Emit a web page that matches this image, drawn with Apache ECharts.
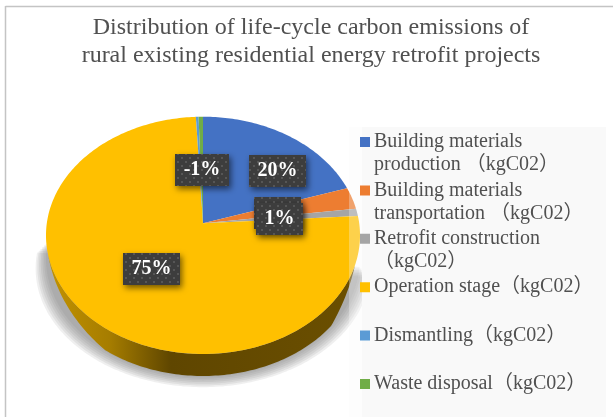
<!DOCTYPE html>
<html>
<head>
<meta charset="utf-8">
<style>html,body{margin:0;padding:0;background:#fff}#grafico{width:613px;height:417px}</style>
<script src="https://cdn.jsdelivr.net/npm/echarts@6/dist/echarts.min.js"></script>
</head>
<body>
<div id="grafico"></div>
<script>
var titulo = 'Distribution of life-cycle carbon emissions of\nrural existing residential energy retrofit projects';
var categorias = [
    'Building materials\nproduction （kgC02）',
    'Building materials\ntransportation （kgC02）',
    'Retrofit construction\n（kgC02）',
    'Operation stage（kgC02）\n ',
    'Dismantling（kgC02）\n ',
    'Waste disposal（kgC02）\n '
];
var valores = [20, 3, 1, 75.2, 0.3, 0.5];
var etiquetas = ['20%', '1%', '1%', '75%', '-1%', '-1%'];
var colores = ['#4472c4', '#ed7d31', '#a5a5a5', '#ffc000', '#5b9bd5', '#70ad47'];

// where the label boxes sit (they were moved by hand in the original)
var pos_etiquetas = [[277.5, 171], [277.5, 213], [279.5, 219], [151.5, 269], [202, 170], [202, 170]];

var FUENTE = '"Liberation Serif", "Noto Sans CJK SC", serif';
var APEX_X = 203, APEX_Y = 223.3, RX = 156.2, RY = 117.4, K = 0.1016, GROSOR = 22;

// angle from 12 o'clock, clockwise, to a point of the tilted disc
function punto(grados) {
    var a = grados * Math.PI / 180;
    var u = Math.sin(a), v = -Math.cos(a), w = 1 - K * v;
    return [APEX_X + RX * u / w, APEX_Y + RY * v / w];
}

function arco(desde, hasta) {
    var pts = [];
    for (var g = desde; g < hasta; g += 1) pts.push(punto(g));
    pts.push(punto(hasta));
    return pts;
}

// side wall fades out towards both ends of the front rim
function grosor_en(g) {
    return GROSOR * Math.max(0, Math.min(1, (g - 110) / 20, (255 - g) / 40));
}

var trama = document.createElement('canvas');
trama.width = 8; trama.height = 8;
var ctx = trama.getContext('2d');
ctx.fillStyle = '#3d3d3d'; ctx.fillRect(0, 0, 8, 8);
ctx.fillStyle = '#565656';
ctx.fillRect(1, 1, 2, 2); ctx.fillRect(5, 5, 2, 2);

var total = valores.reduce(function (a, b) { return a + b; }, 0);

function pintar_porcion(indice, inicio) {
    return function (params, api) {
        var desde = inicio * 360 / total;
        var hasta = desde + api.value(0) * 360 / total;
        var hijos = [];
        var w1 = Math.max(desde, 110), w2 = Math.min(hasta, 255);
        if (w2 > w1) {
            // soft grey shadow under the disc: stacked see-through layers, widest first
            for (var capa = 6; capa >= 0; capa--) {
                (function (c) {
                    hijos.push({
                        type: 'polygon',
                        shape: {
                            points: arco(100, 272).map(function (p) {
                                return [APEX_X + (p[0] - APEX_X) * (1 + c * 0.011), p[1] + GROSOR + 1 + c * 1.7];
                            })
                        },
                        style: { fill: 'rgba(110,110,110,0.11)' }
                    });
                })(capa);
            }
            var borde = [], abajo = [];
            for (var g = w1; g <= w2; g += 1) {
                var p = punto(g);
                borde.push(p);
                abajo.unshift([p[0], p[1] + grosor_en(g)]);
            }
            hijos.push({
                type: 'polygon',
                shape: { points: borde.concat(abajo) },
                style: {
                    fill: new echarts.graphic.LinearGradient(0, 0, 1, 0, [
                        { offset: 0, color: '#c29200' },
                        { offset: 0.2, color: '#a67d00' },
                        { offset: 0.4, color: '#5f4600' },
                        { offset: 1, color: '#6b4f00' }
                    ])
                }
            });
        }
        hijos.push({
            type: 'polygon',
            shape: { points: [[APEX_X, APEX_Y]].concat(arco(desde, hasta)) },
            style: { fill: colores[indice] }
        });
        return { type: 'group', children: hijos };
    };
}

function pintar_etiquetas() {
    var hijos = [];
    var orden = [0, 1, 2, 3, 4];
    for (var n of orden) {
        var c = pos_etiquetas[n];
        var ancho = etiquetas[n] === '1%' ? 47 : (etiquetas[n] === '-1%' ? 54 : 57);
        hijos.push({
            type: 'rect',
            shape: { x: c[0] - ancho / 2, y: c[1] - 16, width: ancho, height: 32 },
            style: {
                fill: { image: trama, repeat: 'repeat' },
                shadowColor: 'rgba(0,0,0,0.55)',
                shadowBlur: 6,
                shadowOffsetX: 2,
                shadowOffsetY: 3
            }
        });
        hijos.push({
            type: 'text',
            style: {
                x: c[0], y: c[1],
                text: etiquetas[n],
                fill: '#ffffff',
                font: 'bold 20px ' + FUENTE,
                align: 'center',
                verticalAlign: 'middle'
            }
        });
    }
    return { type: 'group', children: hijos };
}

var colecciones = [];
var acumulado = 0;
for (var i = 0; i < categorias.length; i++) {
    colecciones.push({
        type: 'custom',
        name: categorias[i],
        coordinateSystem: 'none',
        silent: true,
        z: 2,
        itemStyle: { color: colores[i] },
        data: [[valores[i]]],
        renderItem: pintar_porcion(i, acumulado)
    });
    acumulado += valores[i];
}
colecciones.push({
    type: 'custom',
    coordinateSystem: 'none',
    silent: true,
    z: 8,
    data: [[0]],
    renderItem: pintar_etiquetas
});

var myChart01 = echarts.init(document.getElementById('grafico'));
var option = {
    animation: false,
    backgroundColor: '#ffffff',
    title: {
        text: titulo,
        left: 306,
        top: 9,
        textAlign: 'center',
        textStyle: { fontFamily: FUENTE, fontSize: 24, fontWeight: 'normal', color: '#505050', lineHeight: 28 }
    },
    legend: {
        orient: 'vertical',
        left: 355,
        top: 125.5,
        height: 290,
        z: 10,
        selectedMode: false,
        itemWidth: 10,
        itemHeight: 33,
        itemGap: 2.4,
        // square at the top of a taller box, so it lines up with the first text line
        icon: 'path://M0,0H10V10H0Z M0,33H0.01V33H0Z',
        data: categorias,
        textStyle: { fontFamily: FUENTE, fontSize: 20, color: '#505050', lineHeight: 23, padding: [0, 0, 0, -1] }
    },
    graphic: [
        { type: 'line', z: 1, shape: { x1: 5.5, y1: 6.5, x2: 613, y2: 6.5 }, style: { stroke: '#c4c4c4', lineWidth: 1.5 } },
        { type: 'line', z: 1, shape: { x1: 5.5, y1: 6, x2: 5.5, y2: 417 }, style: { stroke: '#c4c4c4', lineWidth: 1.5 } },
        { type: 'rect', z: 6, shape: { x: 349, y: 127, width: 257, height: 290 }, style: { fill: 'rgba(250,250,250,0.3)' } },
        { type: 'rect', z: 5, shape: { x: 362, y: 127, width: 244, height: 290 }, style: { fill: '#fafafa' } }
    ],
    series: colecciones
};
myChart01.setOption(option, true);
</script>
</body>
</html>
